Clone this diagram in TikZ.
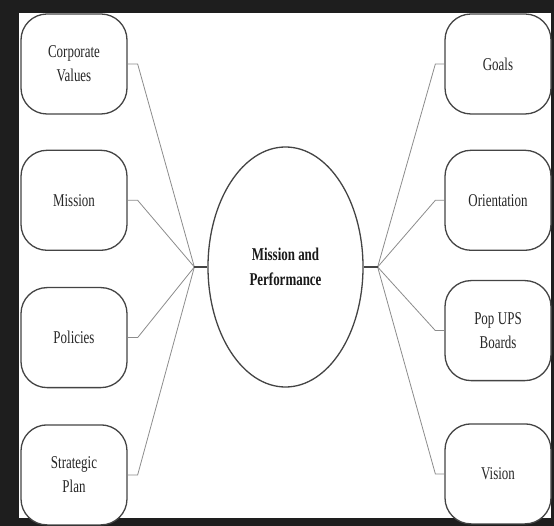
\documentclass[tikz,border=0pt]{standalone}
\usepackage{fontspec}
\setmainfont[FakeStretch=0.72]{Liberation Serif}
\usepackage{xcolor}
\usetikzlibrary{shapes.geometric, positioning}
\definecolor{framedark}{HTML}{1E1E1E}
\definecolor{linkgray}{HTML}{8C8C8C}
\definecolor{edgegray}{HTML}{444444}

\begin{document}
\begin{tikzpicture}[x=1pt, y=-1pt]
    \tikzstyle{box} = [rectangle, draw=edgegray, line width=1.3pt, fill=white, rounded corners=26pt, minimum width=106pt, minimum height=100pt, text width=96pt, align=center, inner sep=0pt, text=black!85, font=\fontsize{18}{24}\selectfont]
    \tikzstyle{hub} = [ellipse, draw=edgegray, line width=1.3pt, fill=white, minimum width=155pt, minimum height=240pt, align=center, inner sep=0pt, text=black!90, font=\bfseries\fontsize{18}{25}\selectfont]
    \tikzstyle{link} = [draw=linkgray, line width=0.8pt]
    \tikzstyle{stub} = [draw=edgegray, line width=1.6pt]

    % dark frame round the page
    \fill[framedark] (0,0) rectangle (554,526);
    \fill[white] (19,13) rectangle (551,518);

    \node [hub] (mp) at (285.5,267) {Mission and\\Performance};

    \node [box] (values) at (74,64) {Corporate\\Values};
    \node [box, below=35pt of values] (mission) {Mission};
    \node [box, below=36pt of mission] (policies) {Policies};
    \node [box, below=36pt of policies] (plan) {Strategic\\Plan};

    \node [box] (goals) at (498,64) {Goals};
    \node [box, below=35pt of goals] (orient) {Orientation};
    \node [box, below=29pt of orient] (boards) {Pop\hspace{3.5pt}UPS\\Boards};
    \node [box, below=42pt of boards] (vision) {Vision};

    \coordinate (jl) at ([xshift=-13pt]mp.west);
    \coordinate (jr) at ([xshift=14pt]mp.east);

    \path [link] (values.east) -- ++(10,0) -- (jl);
    \path [link] (mission.east) -- ++(10,0) -- (jl);
    \path [link] (policies.east) -- ++(10,0) -- (jl);
    \path [link] (plan.east) -- ++(10,0) -- (jl);
    \path [link] (goals.west) -- ++(-9,0) -- (jr);
    \path [link] (orient.west) -- ++(-9,0) -- (jr);
    \path [link] (boards.west) -- ++(-9,0) -- (jr);
    \path [link] (vision.west) -- ++(-9,0) -- (jr);
    \path [stub] (jl) -- (mp.west);
    \path [stub] (jr) -- (mp.east);
\end{tikzpicture}
\end{document}
